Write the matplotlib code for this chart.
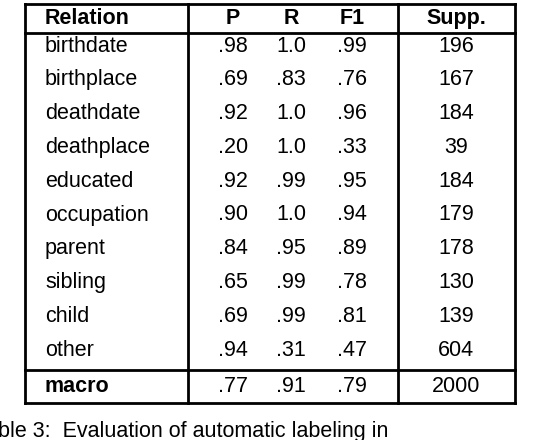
import matplotlib.pyplot as plt

relations = ["birthdate", "birthplace", "deathdate", "deathplace", "educated",
             "occupation", "parent", "sibling", "child", "other"]
p_vals = [".98", ".69", ".92", ".20", ".92", ".90", ".84", ".65", ".69", ".94"]
r_vals = ["1.0", ".83", "1.0", "1.0", ".99", "1.0", ".95", ".99", ".99", ".31"]
f1_vals = [".99", ".76", ".96", ".33", ".95", ".94", ".89", ".78", ".81", ".47"]
supp_vals = ["196", "167", "184", "39", "184", "179", "178", "130", "139", "604"]
macro = ["macro", ".77", ".91", ".79", "2000"]
headers = ["Relation", "P", "R", "F1", "Supp."]
caption = "ble 3:  Evaluation of automatic labeling in"

plt.rcParams["font.family"] = ["Liberation Sans", "DejaVu Sans"]
fig = plt.figure(figsize=(5.42, 4.4), dpi=100)
ax = fig.add_axes([0, 0, 1, 1])
ax.set_xlim(0, 542)
ax.set_ylim(440, 0)
ax.axis("off")

left, right = 25, 515
vx = [188, 398]
top, head_bot, macro_top, bottom = 4, 33, 370, 403
lw = 2

for y in [top, head_bot, macro_top, bottom]:
    ax.plot([left, right], [y, y], color="black", lw=lw, solid_capstyle="projecting")
for x in [left, right] + vx:
    ax.plot([x, x], [top, bottom], color="black", lw=lw, solid_capstyle="projecting")

fs = 15.5
xs_num = [233, 291, 352, 456]
ax.text(45, 18.5, headers[0], fontsize=fs, weight="bold", va="center")
for x, h in zip(xs_num, headers[1:]):
    ax.text(x, 18.5, h, fontsize=fs, weight="bold", va="center", ha="center")

for i, rel in enumerate(relations):
    y = 46 + i * 33.8
    ax.text(45, y, rel, fontsize=fs, va="center")
    for x, v in zip(xs_num, [p_vals[i], r_vals[i], f1_vals[i], supp_vals[i]]):
        ax.text(x, y, v, fontsize=fs, va="center", ha="center")

ax.text(45, 387, macro[0], fontsize=fs, weight="bold", va="center")
for x, v in zip(xs_num, macro[1:]):
    ax.text(x, 387, v, fontsize=fs, va="center", ha="center")

ax.text(-2, 431, caption, fontsize=fs, va="center")

fig.savefig("out.png", dpi=100)
